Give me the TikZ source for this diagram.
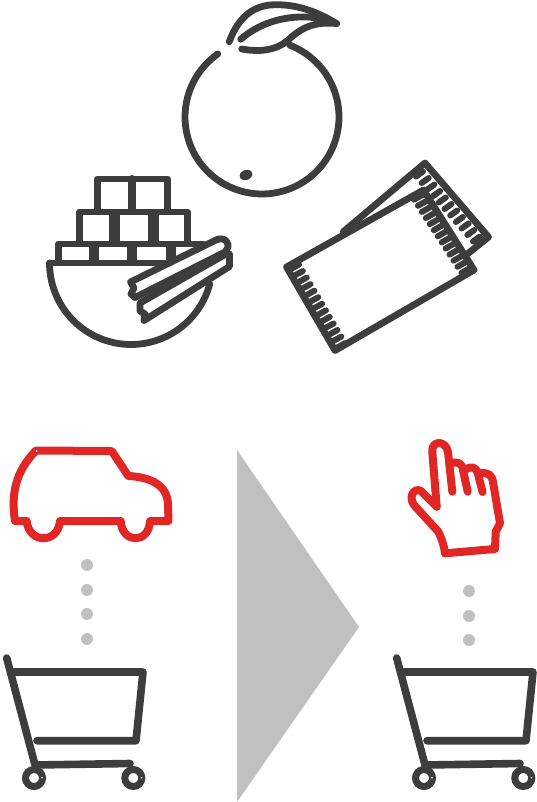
\documentclass[tikz,border=0pt]{standalone}
\definecolor{dk}{HTML}{3D3D3D}
\definecolor{rd}{HTML}{E12726}
\definecolor{gy}{HTML}{C0C0C0}
\tikzset{
  ink/.style={draw=dk,line width=6.8pt,line cap=round,line join=round},
  redink/.style={draw=rd,line width=8pt,line cap=round,line join=round},
  tooth/.style={draw=dk,line width=6pt,line cap=round},
  dotty/.style={fill=gy,draw=none},
  pack/.style={ink,fill=white},
  cartpic/.pic={
    \draw[ink,line width=7.6pt] (6.7,658) -- (35,765) -- (130,763.5);
    \draw[ink,line width=7.6pt] (13,672) -- (143,672) -- (136,740.7) -- (37,740.7);
    \draw[dk,line width=7pt] (34,778) circle[radius=8.5];
    \draw[dk,line width=7pt] (133.3,778) circle[radius=8.5];
    \fill[white] (42,777.7) circle[radius=.9] (141.5,777.7) circle[radius=.9];
  }
}
\begin{document}
\begin{tikzpicture}[x=1pt,y=-1pt]
\useasboundingbox (0,0) rectangle (537,802);
% orange
\draw[ink] plot[domain=-69:235,samples=90] ({262+77*cos(\x)},{117+77*sin(\x)});
\fill[dk,rotate around={20:(246,175)}] (246,175) ellipse[x radius=6.5,y radius=5];
\draw[ink] (229.3,41.7) .. controls (238,18) and (252,7) .. (270,5) .. controls (295,3) and (318,12) .. (336.5,23.5);
\draw[ink] (240.7,39.3) .. controls (258,24) and (282,16) .. (308,17) .. controls (320,18) and (330,21) .. (336.5,23.5);
\draw[ink] (241.7,49) .. controls (258,52) and (275,51) .. (287,41) .. controls (298,31) and (310,21) .. (336.5,23.5);
% bowl of sugar
\draw[ink] plot[domain=15:180,samples=60] ({131+81.5*cos(\x)},{263+81.5*sin(\x)});
\draw[ink] (49.5,263) -- (165,263);
\draw[ink] (97.3,210.7) -- (97.3,179) -- (167.7,179) -- (167.7,210.7);
\draw[ink,line width=8pt] (131.7,179) -- (131.7,210.7);
\draw[ink] (79.3,243.3) -- (79.3,212) -- (187.7,212) -- (187.7,243.3);
\draw[ink,line width=11pt,line cap=butt] (114,212) -- (114,243.3) (153.3,212) -- (153.3,243.3);
\draw[ink] (58.3,262) -- (58.3,244) -- (203,244);
\draw[ink,line width=10pt,line cap=butt] (94,244) -- (94,263) (132.3,244) -- (132.3,263) (170.7,244) -- (170.7,260);
% sticks
\draw[ink,fill=white] (140,303) -- (226,254) -- (229.5,254) -- (229.5,266.5) -- (144,320.5) -- (145,314) -- (140,311) -- cycle;
\draw[ink,fill=white] (130.5,282) -- (216,240) .. controls (224,236) and (231,243) .. (227,249) -- (225,252) -- (135,297.5) -- (131,294) -- (134,288) -- cycle;
% packet back
\draw[pack] (343.3,231.7) -- (425,163) -- (488.5,237) -- (468.3,253.3);
\foreach \t in {0,...,10}
  \draw[tooth] ({423+\t*5.7},{171.5+\t*6.5}) -- ++(-7,5);
% packet front
\draw[pack] (286.5,267) -- (423.5,190) -- (474,270) -- (335,350.5) -- cycle;
\foreach \t in {0,...,12}
  \draw[tooth] ({289+\t*3.85},{270+\t*6.55}) -- ++(10,-5.5);
\foreach \t in {0,...,12}
  \draw[tooth] ({424+\t*3.95},{194+\t*6.1}) -- ++(-10,5.7);
% car
\draw[redink] (36,450.5) -- (111.7,451) -- (128.3,476)
  .. controls (150,477) and (168,485) .. (168,505) -- (168.5,521) -- (150,521)
  .. controls (149,544) and (122,544) .. (120.7,521) -- (60,521)
  .. controls (58,544) and (29,544) .. (26.7,521) -- (15,521)
  .. controls (11,495) and (15,472) .. (36,450.5) -- cycle;
\fill[white] (36.5,451) circle[radius=1];
% hand
\draw[redink] (445,553.3) -- (495,549) -- (495.7,531.7) -- (500,523.3) -- (493,482)
  .. controls (492,475) and (488,473) .. (483,473) -- (480,473);
\draw[redink] (436.7,506.7) -- (432.3,452) .. controls (431,440) and (446,440) .. (448,452) -- (452.3,491.7);
\draw[redink] (451,463.5) .. controls (458,461) and (462,463) .. (463,470) -- (467.7,491.7);
\draw[redink] (466,469) .. controls (472,466) and (476,467) .. (478,474) -- (482.5,492);
\draw[redink] (436.7,506.7) -- (421,491) .. controls (414,487) and (408,497) .. (414,505) -- (438.3,531.7) .. controls (441,537) and (444,545) .. (445,553.3);
% arrow
\fill[gy] (237,450) -- (359,627) -- (237,802) -- cycle;
% dots
\foreach \y in {565,590,614,639} \fill[dotty] (87,\y) circle[radius=6];
\foreach \y in {591,616,640} \fill[dotty] (469,\y) circle[radius=6];
% carts
\pic at (0,0) {cartpic};
\pic at (390,0) {cartpic};
\end{tikzpicture}
\end{document}
